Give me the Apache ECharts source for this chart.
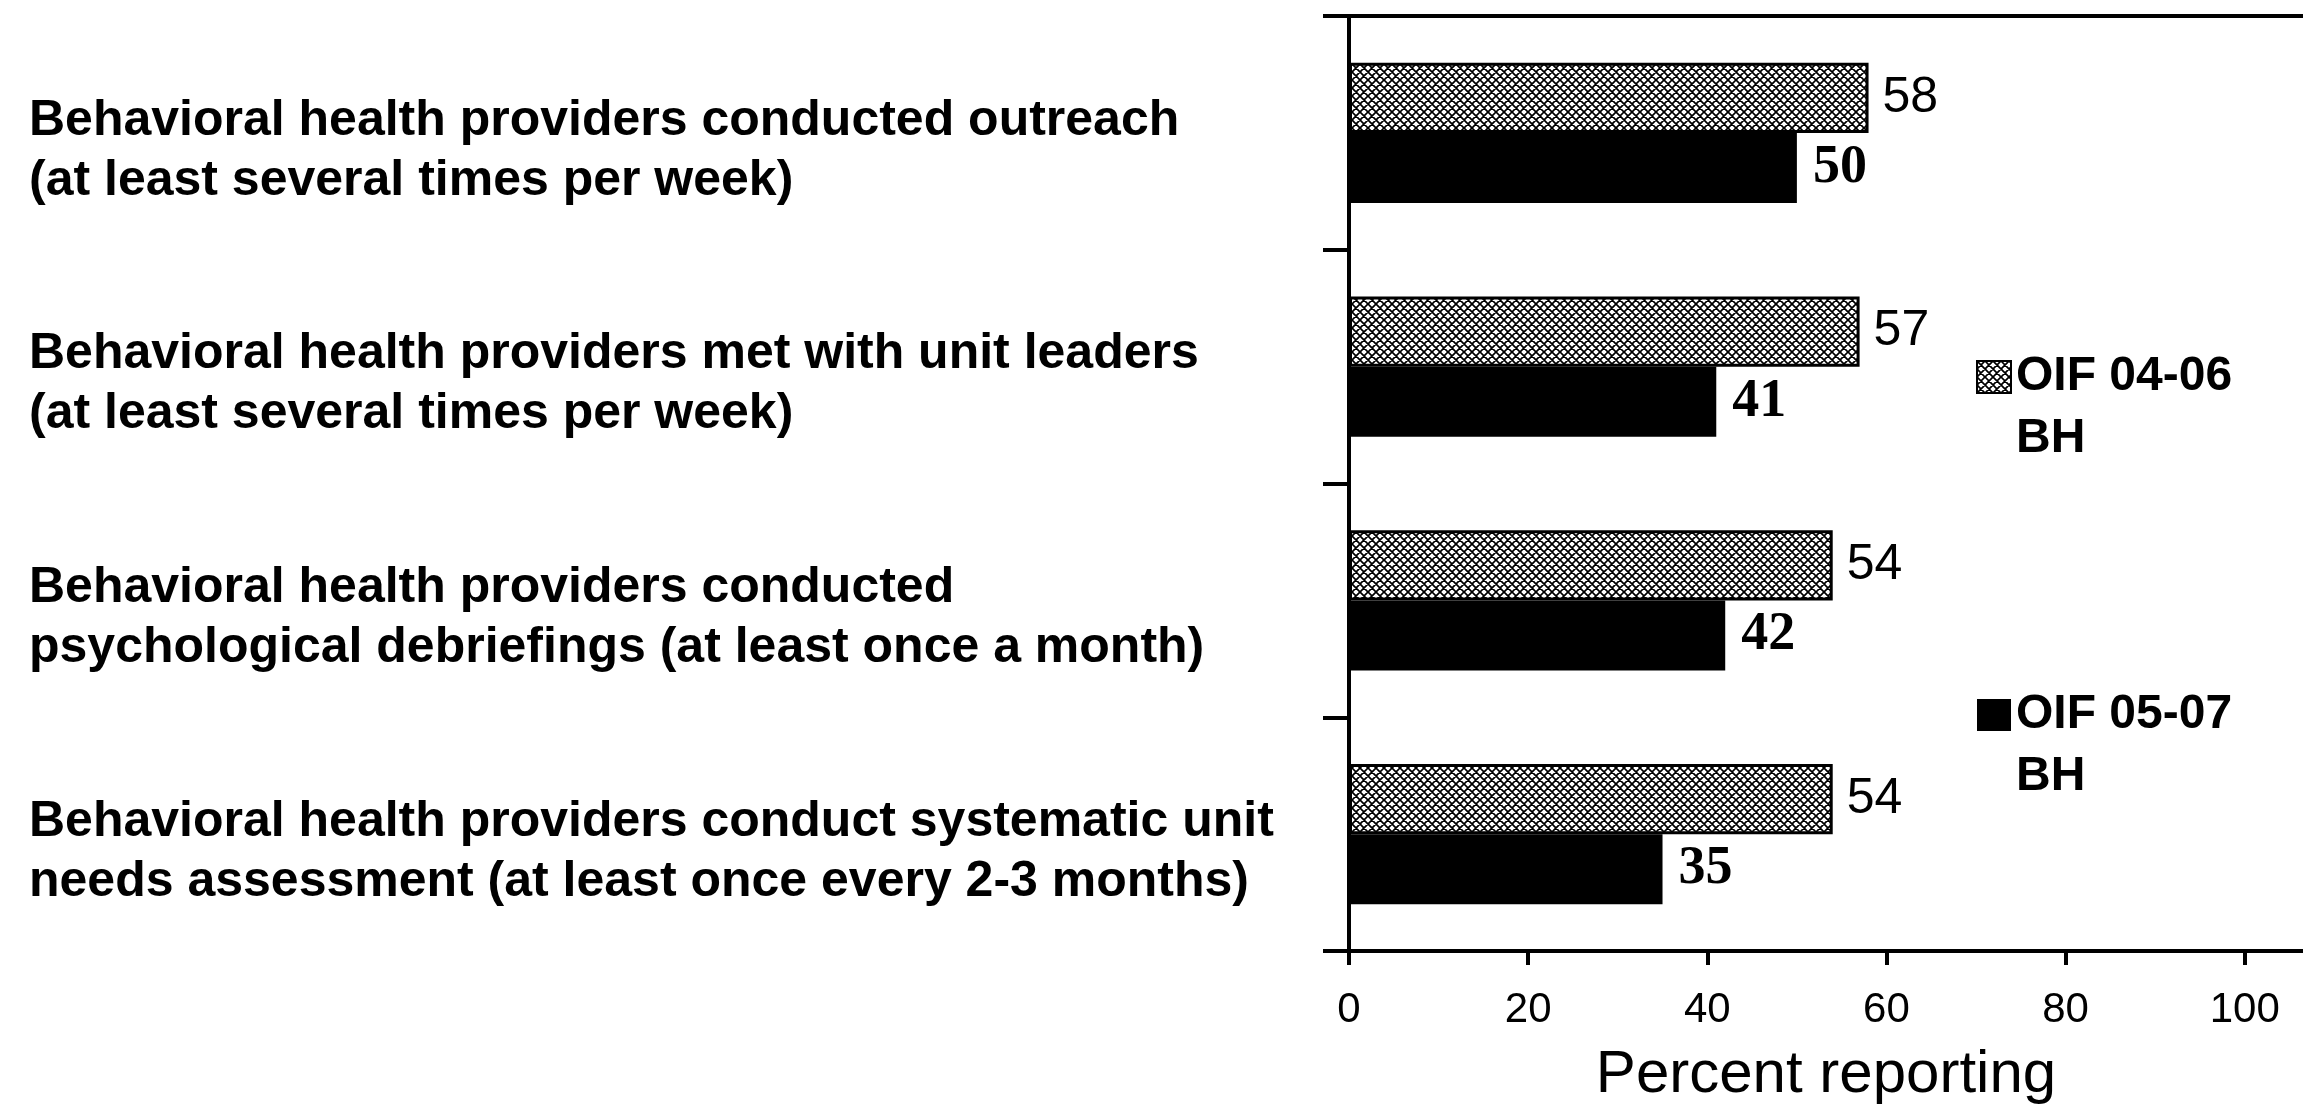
<!DOCTYPE html>
<html style="height: 100%">
<head>
    <meta charset="utf-8">
    <title>Behavioral health provider activities</title>
    <script type="text/javascript" src="https://cdn.jsdelivr.net/npm/echarts@6/dist/echarts.min.js"></script>
</head>
<body style="height: 100%; margin: 0; background: #fff;">
<div id="container" style="width: 2303px; height: 1110px;"></div>
<script type="text/javascript">
    // categories, top to bottom
    var categories = [
        'Behavioral health providers conducted outreach\n(at least several times per week)',
        'Behavioral health providers met with unit leaders\n(at least several times per week)',
        'Behavioral health providers conducted\npsychological debriefings (at least once a month)',
        'Behavioral health providers conduct systematic unit\nneeds assessment (at least once every 2-3 months)'
    ];
    var seriesNames = ['OIF 04-06\nBH', 'OIF 05-07\nBH'];
    var oif0406 = [58, 57, 54, 54];
    var oif0507 = [50, 41, 42, 35];
    var xTicks = [0, 20, 40, 60, 80, 100];

    // hatch tile for the first series
    function makeHatch() {
        var c = document.createElement('canvas');
        c.width = 16;
        c.height = 16;
        var ctx = c.getContext('2d');
        ctx.fillStyle = '#fff';
        ctx.fillRect(0, 0, 16, 16);
        ctx.strokeStyle = '#000';
        ctx.lineWidth = 1.7;
        ctx.beginPath();
        for (var k = -16; k <= 32; k += 8) {
            ctx.moveTo(k, 0);
            ctx.lineTo(k + 16, 16);
            ctx.moveTo(k + 16, 0);
            ctx.lineTo(k, 16);
        }
        ctx.stroke();
        return c;
    }

    var myChart = echarts.init(document.getElementById('container'));
    var sans = 'Liberation Sans, Arial, sans-serif';
    var option = {
        animation: false,
        backgroundColor: '#fff',
        grid: {
            left: 1349,
            right: 0,
            top: 16,
            bottom: 158
        },
        legend: {
            orient: 'vertical',
            left: 1971,
            top: 279,
            itemGap: 152,
            itemWidth: 34,
            itemHeight: 32,
            icon: 'rect',
            data: seriesNames,
            // blank first line so the icon sits beside the first text line
            formatter: function (name) {
                return '\n' + name;
            },
            textStyle: {
                fontFamily: sans,
                fontWeight: 'bold',
                fontSize: 48,
                lineHeight: 62,
                color: '#000'
            }
        },
        xAxis: [{
            type: 'value',
            min: 0,
            max: 106.5,
            position: 'bottom',
            name: 'Percent reporting',
            nameLocation: 'middle',
            nameGap: 94,
            nameTextStyle: {
                fontFamily: sans,
                fontSize: 60,
                color: '#000'
            },
            splitLine: {show: false},
            axisLine: {show: true, lineStyle: {color: '#000', width: 4}},
            axisTick: {
                show: true,
                customValues: xTicks,
                length: 14,
                lineStyle: {color: '#000', width: 4}
            },
            axisLabel: {
                customValues: xTicks,
                margin: 38,
                fontFamily: sans,
                fontSize: 42,
                color: '#000'
            }
        }, {
            // top border line
            type: 'value',
            min: 0,
            max: 106.5,
            position: 'top',
            splitLine: {show: false},
            axisLine: {show: true, lineStyle: {color: '#000', width: 4}},
            axisTick: {show: false},
            axisLabel: {show: false}
        }],
        yAxis: {
            type: 'category',
            inverse: true,
            data: categories,
            axisLine: {show: true, lineStyle: {color: '#000', width: 4}},
            axisTick: {
                show: true,
                length: 26,
                lineStyle: {color: '#000', width: 4}
            },
            axisLabel: {
                align: 'left',
                margin: 1320,
                formatter: function (value) {
                    var lines = value.split('\n');
                    return '{s| }\n{b|' + lines[0] + '}\n{b|' + lines[1] + '}';
                },
                rich: {
                    s: {fontSize: 10, lineHeight: 36},
                    b: {
                        fontFamily: sans,
                        fontWeight: 'bold',
                        fontSize: 50,
                        lineHeight: 60,
                        color: '#000'
                    }
                }
            }
        },
        series: [{
            name: seriesNames[0],
            type: 'bar',
            data: oif0406,
            barGap: '0%',
            barCategoryGap: '40%',
            itemStyle: {
                color: {image: makeHatch(), repeat: 'repeat'},
                borderColor: '#000',
                borderWidth: 3
            },
            label: {
                show: true,
                position: 'right',
                distance: 14,
                fontFamily: sans,
                fontSize: 50,
                color: '#000'
            }
        }, {
            name: seriesNames[1],
            type: 'bar',
            data: oif0507,
            itemStyle: {color: '#000'},
            label: {
                show: true,
                position: 'right',
                distance: 16,
                fontFamily: 'Liberation Serif, Times New Roman, serif',
                fontWeight: 'bold',
                fontSize: 54,
                color: '#000'
            }
        }]
    };
    myChart.setOption(option);
</script>
</body>
</html>
